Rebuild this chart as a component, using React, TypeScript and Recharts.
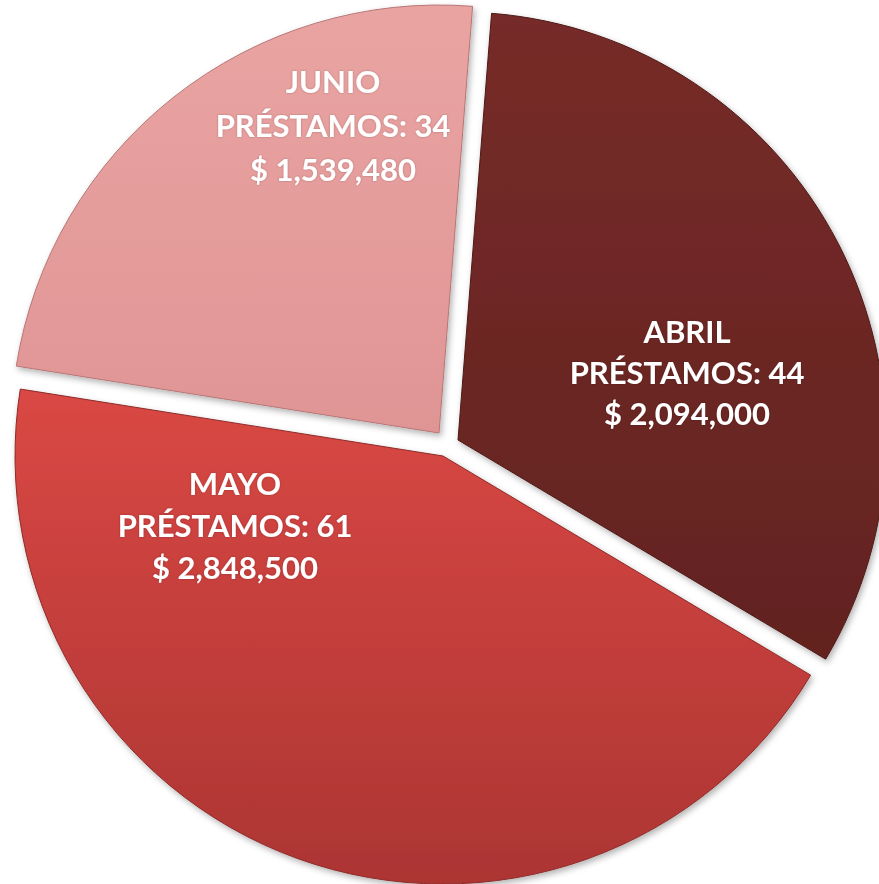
import React from 'react';
import { PieChart, Pie, Cell } from 'recharts';

// ---- data ----
const months = ['ABRIL', 'MAYO', 'JUNIO'];
const loans = [44, 61, 34];
const amounts = [2094000, 2848500, 1539480];

const data = months.map((m, i) => ({ name: m, loans: loans[i], amount: amounts[i] }));

// ---- presentation ----
const W = 879;
const H = 884;
const CX = 446;
const CY = 447;
const R = 428;
const START = 85.5;
const END = START - 360;

const GRADS = [
  { id: 'gAbril', top: '#762B29', bottom: '#63231F' },
  { id: 'gMayo', top: '#DA4844', bottom: '#AC3533' },
  { id: 'gJunio', top: '#E9A4A2', bottom: '#E09595' },
];
const STROKES = ['#4E1A18', '#8E2A28', '#B87676'];

// explode offset of each slice from the common centre
const EXPLODE = [
  { dx: 12, dy: -7 },
  { dx: -3, dy: 9 },
  { dx: -7, dy: -14 },
];
// label anchor relative to each exploded slice's centre (first baseline)
const LABEL_POS = [
  { dx: 229, dy: -97, gap: 41 },
  { dx: -208, dy: 39, gap: 42 },
  { dx: -106, dy: -340, gap: 44 },
];

const fmt = (v: number) => '$ ' + v.toLocaleString('en-US');

const makeLabel = (own: number) => (props: any) => {
  if (props.index !== own) return null;
  const cx = CX + EXPLODE[own].dx;
  const cy = CY + EXPLODE[own].dy;
  const p = LABEL_POS[own];
  const x = cx + p.dx;
  const y = cy + p.dy;
  const d = data[own];
  return (
    <text
      x={x}
      y={y}
      textAnchor="middle"
      fill="#FFFFFF"
      fontFamily="Lato, 'Open Sans', sans-serif"
      fontWeight={700}
      fontSize={31}
      filter="url(#txtShadow)"
    >
      <tspan x={x} y={y}>{d.name}</tspan>
      <tspan x={x} y={y + p.gap}>{`PRÉSTAMOS: ${d.loans}`}</tspan>
      <tspan x={x} y={y + 2 * p.gap}>{fmt(d.amount)}</tspan>
    </text>
  );
};

export default function App() {
  return (
    <div style={{ position: 'absolute', left: 0, top: 0, width: W, height: H, background: '#ffffff' }}>
      <PieChart width={W} height={H} margin={{ top: 0, right: 0, bottom: 0, left: 0 }}>
        <defs>
          {GRADS.map((g) => (
            <linearGradient key={g.id} id={g.id} x1="0" y1="0" x2="0" y2="1">
              <stop offset="0%" stopColor={g.top} />
              <stop offset="100%" stopColor={g.bottom} />
            </linearGradient>
          ))}
          <filter id="shadow" x="-10%" y="-10%" width="120%" height="120%">
            <feDropShadow dx="2" dy="3" stdDeviation="3" floodColor="#000000" floodOpacity="0.3" />
          </filter>
          <filter id="txtShadow" x="-10%" y="-20%" width="120%" height="140%">
            <feDropShadow dx="0" dy="0" stdDeviation="1.2" floodColor="#000000" floodOpacity="0.25" />
          </filter>
        </defs>
        {data.map((_, own) => (
          <Pie
            key={own}
            data={data}
            dataKey="amount"
            nameKey="name"
            cx={CX + EXPLODE[own].dx}
            cy={CY + EXPLODE[own].dy}
            outerRadius={R}
            innerRadius={0}
            startAngle={START}
            endAngle={END}
            paddingAngle={0}
            isAnimationActive={false}
            labelLine={false}
            label={makeLabel(own)}
          >
            {data.map((__, i) => (
              <Cell
                key={i}
                fill={i === own ? `url(#${GRADS[i].id})` : 'none'}
                stroke={i === own ? STROKES[i] : 'none'}
                strokeWidth={i === own ? 1 : 0}
                filter={i === own ? 'url(#shadow)' : undefined}
              />
            ))}
          </Pie>
        ))}
      </PieChart>
    </div>
  );
}
